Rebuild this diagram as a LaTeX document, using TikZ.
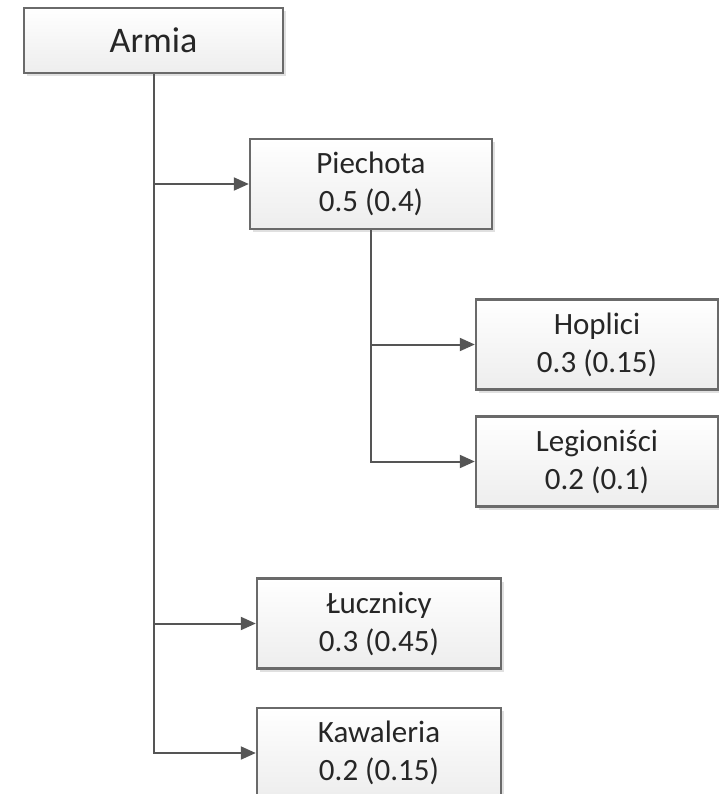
\documentclass[tikz,border=0pt]{standalone}
\usepackage{fontspec}
\setmainfont{Carlito}
\usetikzlibrary{shadows,arrows.meta}
\definecolor{edgegray}{HTML}{6A6A6A}
\definecolor{linegray}{HTML}{555555}
\definecolor{txt}{HTML}{262626}
\tikzset{
  unitbox/.style={draw=edgegray, line width=2.4pt, rectangle, inner sep=0pt,
    top color=white, bottom color=black!7, text=txt, align=center,
    font=\fontsize{31}{38}\selectfont,
    drop shadow={shadow xshift=3pt, shadow yshift=-3pt, fill=black!12, opacity=1}},
  childbox/.style={unitbox, minimum width=242pt, minimum height=90pt},
  link/.style={draw=linegray, line width=2pt,
    -{Triangle[length=15pt, width=13pt]}},
}
\begin{document}
\begin{tikzpicture}[x=1pt, y=-1pt]
  \useasboundingbox (0,0) rectangle (719,794);
  \clip (0,0) rectangle (719,794);

  \node[unitbox, minimum width=259pt, minimum height=65pt,
        font=\fontsize{36}{42}\selectfont] (armia) at (153.5,40.5) {Armia};
  \node[childbox] (piech) at (371,184) {Piechota\\0.5 (0.4)};
  \node[childbox] (hopl) at (597,344.5) {Hoplici\\0.3 (0.15)};
  \node[childbox] (legio) at (597,461.5) {Legioniści\\0.2 (0.1)};
  \node[childbox, minimum width=244pt] (lucz) at (379,623.5) {Łucznicy\\0.3 (0.45)};
  \node[childbox, minimum width=244pt] (kaw) at (379,753) {Kawaleria\\0.2 (0.15)};

  % elbow connectors from each parent down its stem and across to the child
  \draw[link] (armia.south) |- (piech.west);
  \draw[link] (armia.south) |- (lucz.west);
  \draw[link] (armia.south) |- (kaw.west);
  \draw[link] (piech.south) |- (hopl.west);
  \draw[link] (piech.south) |- (legio.west);
\end{tikzpicture}
\end{document}
